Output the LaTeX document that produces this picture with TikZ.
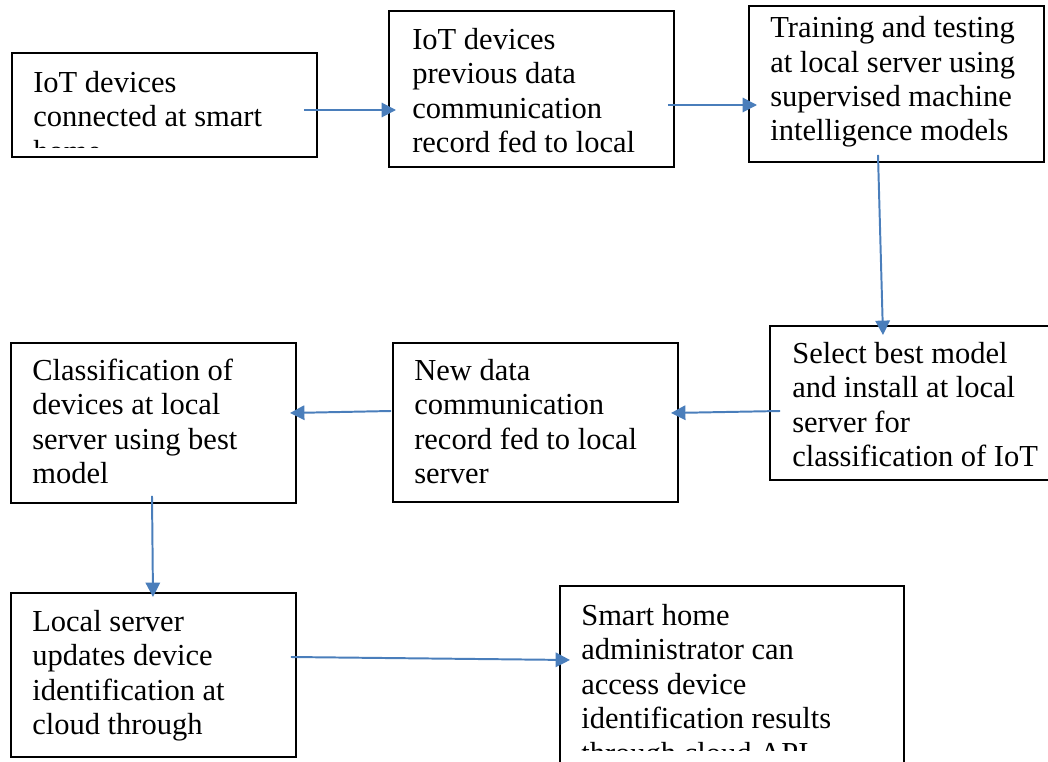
\documentclass[tikz,border=0pt]{standalone}
\usepackage{fontspec}
\setmainfont{Liberation Serif}
\usetikzlibrary{arrows.meta}
\definecolor{flowblue}{RGB}{74,126,187}
\tikzset{
  stage/.style 2 args={draw=black, line width=1.4pt, inner sep=0pt,
    minimum width=#1*0.025cm, minimum height=#2*0.025cm},
  stagetxt/.style={anchor=base west, align=left, inner sep=0pt,
    font=\fontsize{21.7}{24.5}\selectfont},
  flow/.style={-{Triangle[length=0.36cm,width=0.36cm]}, line width=1.4pt, flowblue}
}
\begin{document}
\begin{tikzpicture}[x=0.025cm, y=-0.025cm]
\useasboundingbox (0,0) rectangle (1048,762);
% boxes
\node[stage={305}{104}] (s1) at (164.5,105) {};
\node[stage={285}{156}] (s2) at (531.5,89) {};
\node[stage={295}{156}] (s3) at (896.5,84) {};
\node[stage={280}{154}] (s4) at (910,403) {};
\node[stage={285}{159}] (s5) at (535.5,422.5) {};
\node[stage={285}{160}] (s6) at (153.5,423) {};
\node[stage={285}{164}] (s7) at (153.5,675) {};
\node[stage={344}{204}] (s8) at (732,688) {};
% texts (anchored on the last line)
\begin{scope}
\clip (s1.north west) rectangle ([shift={(0,-10)}]s1.south east);
\node[stagetxt] (t1) at (33,161) {IoT devices\\connected at smart\\home};
\end{scope}
\node[stagetxt] (t2) at (412,152.5) {IoT devices\\previous data\\communication\\record fed to local};
\node[stagetxt] (t3) at (770,141) {Training and testing\\at local server using\\supervised machine\\intelligence models};
\node[stagetxt] (t4) at (792,466.5) {Select best model\\and install at local\\server for\\classification of IoT};
\node[stagetxt] (t5) at (414,483.5) {New data\\communication\\record fed to local\\server};
\node[stagetxt] (t6) at (32,483.5) {Classification of\\devices at local\\server using best\\model};
\node[stagetxt] (t7) at (32,734.5) {Local server\\updates device\\identification at\\cloud through};
\begin{scope}
\clip (s8.north west) rectangle (1048,750);
\node[stagetxt] (t8) at (581,763) {Smart home\\administrator can\\access device\\identification results\\through cloud API};
\end{scope}
% arrows
\draw[flow] ([shift={(-14,5)}]s1.east) -- ([shift={(8,21)}]s2.west);
\draw[flow] ([shift={(-7,16)}]s2.east) -- ([shift={(9,21)}]s3.west);
\draw[flow] ([shift={(-18.5,-8)}]s3.south) -- ([shift={(-27,10)}]s4.north);
\draw[flow] ([shift={(11,8)}]s4.west) -- ([shift={(-8,-9.5)}]s5.east);
\draw[flow] ([shift={(-1,-11.5)}]s5.west) -- ([shift={(-7,-10)}]s6.east);
\draw[flow] ([shift={(-1.5,-8)}]s6.south) -- ([shift={(-0.5,5)}]s7.north);
\draw[flow] ([shift={(-6,-18)}]s7.east) -- ([shift={(11,-28)}]s8.west);
\end{tikzpicture}
\end{document}
